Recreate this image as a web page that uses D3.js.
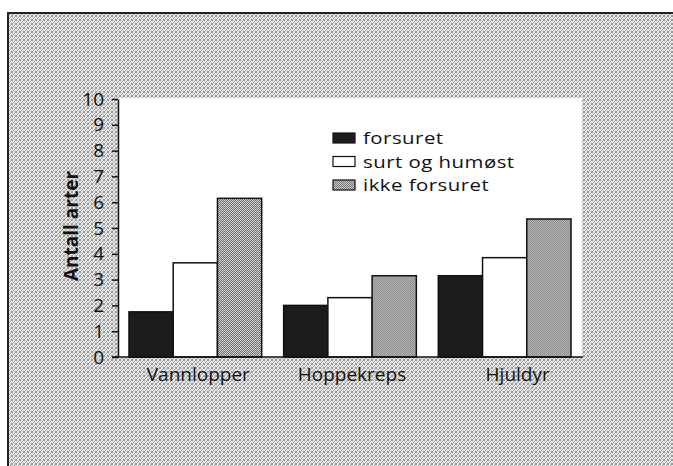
<!DOCTYPE html>
<html>
<head>
<meta charset="utf-8">
<script src="https://cdn.jsdelivr.net/npm/d3@7"></script>
<style>
  body { margin: 0; background: #fff; overflow: hidden; }
  svg { display: block; }
  text { font-family: "Open Sans", "Noto Sans", sans-serif; fill: #111; }
</style>
</head>
<body>
<div id="chart"></div>
<script>
// data
var categories = ["Vannlopper", "Hoppekreps", "Hjuldyr"]
var seriesNames = ["forsuret", "surt og humøst", "ikke forsuret"]
var forsuret = [1.75, 2.0, 3.15]
var surt = [3.65, 2.3, 3.85]
var ikke = [6.15, 3.15, 5.35]
var yTicks = [0, 1, 2, 3, 4, 5, 6, 7, 8, 9, 10]

var W = 673, H = 466
var plot = {left: 118, right: 582, top: 98, bottom: 357}

var svg = d3.select("#chart").append("svg")
    .attr("width", W)
    .attr("height", H)

// halftone patterns to mimic the printed screen
var defs = svg.append("defs")
function dither(id, light, dark, dots) {
  var p = defs.append("pattern")
      .attr("id", id)
      .attr("width", 4).attr("height", 4)
      .attr("patternUnits", "userSpaceOnUse")
  p.append("rect").attr("width", 4).attr("height", 4).attr("fill", light)
  dots.forEach(function(d) {
    p.append("rect").attr("x", d[0]).attr("y", d[1])
        .attr("width", 1).attr("height", 1).attr("fill", dark)
  })
}
// scattered dots, not a plain checker
dither("bg", "#e6e6e6", "#9a9a9a", [[0,0],[2,1],[1,2],[3,3],[3,0],[0,3]])
dither("grey", "#d2d2d2", "#6e6e6e", [[0,0],[2,0],[1,1],[3,1],[0,2],[2,2],[1,3],[3,3]])

// outer frame: only top and left edges fall inside the picture
svg.append("rect")
    .attr("x", 8).attr("y", 13)
    .attr("width", W).attr("height", H)
    .attr("fill", "url(#bg)")
svg.append("path")
    .attr("d", "M8," + H + "V13H" + W)
    .attr("fill", "none")
    .attr("stroke", "#222")
    .attr("stroke-width", 2)

svg.append("rect")
    .attr("x", plot.left).attr("y", plot.top)
    .attr("width", plot.right - plot.left)
    .attr("height", plot.bottom - plot.top)
    .attr("fill", "#fff")

var x = d3.scaleBand()
    .domain(categories)
    .range([plot.left, plot.right])
    .paddingInner(0.142)
    .paddingOuter(0.071)

var xSub = d3.scaleBand()
    .domain(seriesNames)
    .range([0, x.bandwidth()])

var y = d3.scaleLinear()
    .domain([0, 10])
    .range([plot.bottom, plot.top + 1])

var fills = {"forsuret": "#1c1c1c", "surt og humøst": "#fff", "ikke forsuret": "url(#grey)"}
var values = {"forsuret": forsuret, "surt og humøst": surt, "ikke forsuret": ikke}

var groups = svg.selectAll("g.group")
    .data(categories)
    .enter().append("g")
    .attr("class", "group")
    .attr("transform", function(d) { return "translate(" + x(d) + ",0)" })

groups.selectAll("rect")
    .data(function(c, i) {
      return seriesNames.map(function(s) { return {s: s, v: values[s][i]} })
    })
    .enter().append("rect")
    .attr("x", function(d) { return xSub(d.s) })
    .attr("y", function(d) { return y(d.v) })
    .attr("width", xSub.bandwidth())
    .attr("height", function(d) { return y(0) - y(d.v) })
    .attr("fill", function(d) { return fills[d.s] })
    .attr("stroke", "#111")
    .attr("stroke-width", 1.5)

// y axis
var yAxis = svg.append("g")
    .attr("transform", "translate(" + plot.left + ",0)")
    .call(d3.axisLeft(y).tickValues(yTicks).tickSizeInner(6).tickSizeOuter(0).tickPadding(8))
yAxis.select(".domain").attr("stroke", "#111").attr("stroke-width", 1.5)
yAxis.selectAll(".tick line").attr("stroke", "#111").attr("stroke-width", 1.5)
yAxis.selectAll("text").style("font-size", "19px").style("font-weight", 500).attr("fill", "#111")

// baseline
svg.append("line")
    .attr("x1", plot.left - 6).attr("x2", plot.right + 1)
    .attr("y1", y(0)).attr("y2", y(0))
    .attr("stroke", "#111").attr("stroke-width", 1.5)

// category labels
var labelShift = {"Vannlopper": 3, "Hoppekreps": 2, "Hjuldyr": 13}
svg.selectAll("text.cat")
    .data(categories)
    .enter().append("text")
    .attr("class", "cat")
    .attr("x", function(d) { return x(d) + x.bandwidth() / 2 + labelShift[d] })
    .attr("y", 381)
    .attr("text-anchor", "middle")
    .style("font-size", "19px")
    .style("font-weight", 500)
    .text(function(d) { return d })

// y title
svg.append("text")
    .attr("transform", "translate(78,226) rotate(-90)")
    .attr("text-anchor", "middle")
    .style("font-size", "19px")
    .style("font-weight", "bold")
    .text("Antall arter")

// legend
var legend = svg.selectAll("g.legend")
    .data(seriesNames)
    .enter().append("g")
    .attr("class", "legend")
    .attr("transform", function(d, i) { return "translate(333," + (138 + i * 23.5) + ")" })

legend.append("rect")
    .attr("x", 0).attr("y", -5)
    .attr("width", 22).attr("height", 10)
    .attr("fill", function(d) { return fills[d] })
    .attr("stroke", "#111")
    .attr("stroke-width", 1.2)

// the scan is a little stretched sideways, so widen the legend text
legend.append("text")
    .attr("transform", "translate(30,6) scale(1.2,1)")
    .style("font-size", "17px")
    .style("font-weight", 500)
    .style("letter-spacing", "0.4px")
    .text(function(d) { return d })
</script>
</body>
</html>
